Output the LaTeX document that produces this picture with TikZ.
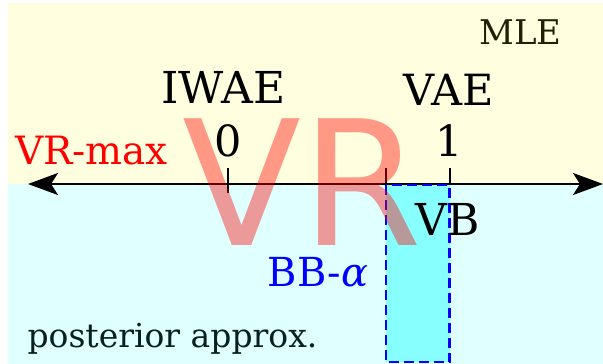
\documentclass[tikz,border=0pt]{standalone}
\usepackage{fontspec}
\setmainfont{DejaVu Serif}
\newfontfamily\vrfont{DejaVu Sans}
\usetikzlibrary{arrows.meta}
\definecolor{bgyellow}{RGB}{255,255,224}
\definecolor{bgcyan}{RGB}{224,255,255}
\definecolor{boxcyan}{RGB}{136,255,255}
\definecolor{mlecol}{RGB}{32,32,8}
\definecolor{postcol}{RGB}{8,32,32}
\tikzset{
  lbl/.style={inner sep=0pt, anchor=base},
  tickline/.style={line width=2pt, black},
  fs/.style={font=\fontsize{#1}{#1}\selectfont}
}
\begin{document}
\begin{tikzpicture}[x=1pt,y=-1pt]
\useasboundingbox (0,0) rectangle (603,364);
\fill[white] (0,0) rectangle (603,364);
\fill[bgyellow] (8,3) rectangle (603,184);
\fill[bgcyan] (8,184) rectangle (603,364);
% axis
\coordinate (L) at (28,184);
\coordinate (R) at (603,184);
\draw[line width=2pt, {Stealth[length=30pt,width=22pt,inset=7pt]}-{Stealth[length=30pt,width=22pt,inset=7pt]}] (L) -- (R);
% BB-alpha box
\coordinate (b1) at (386,185);
\coordinate (b2) at (449.5,362);
\draw[line width=2.6pt, blue, fill=boxcyan, dash pattern=on 10pt off 5pt] (b1) rectangle (b2);
% ticks
\coordinate (t0a) at (228,168); \coordinate (t0b) at (228,193);
\coordinate (tma) at (386,168); \coordinate (tmb) at (386,184);
\coordinate (t1a) at (450,168); \coordinate (t1b) at (450,184);
\draw[tickline] (t0a) -- (t0b);
\draw[tickline] (tma) -- (tmb);
\draw[tickline] (t1a) -- (t1b);
% labels
\node[lbl, fs=34, text=mlecol] (mle) at (520.5,45) {MLE};
\node[lbl, fs=44] (iwae) at (223.5,103) {IWAE};
\node[lbl, fs=43] (vae) at (448.5,105) {VAE};
\node[lbl, fs=43] (zero) at (228,156) {0};
\node[lbl, fs=43] (one) at (449,156) {1};
\node[lbl, fs=39, text=red] (vrmax) at (91.5,164) {VR-max};
\node[lbl, fs=40, text=blue] (bb) at (318,286) {BB-{\itshape α}};
\node[lbl, fs=33, text=postcol] (post) at (172.5,347) {posterior approx.};
\node[lbl, text=red, text opacity=0.4, font=\vrfont\fontsize{174}{174}\selectfont] (vr) at (302,245) {VR};
\node[lbl, fs=44] (vb) at (448,235) {VB};
\end{tikzpicture}
\end{document}
